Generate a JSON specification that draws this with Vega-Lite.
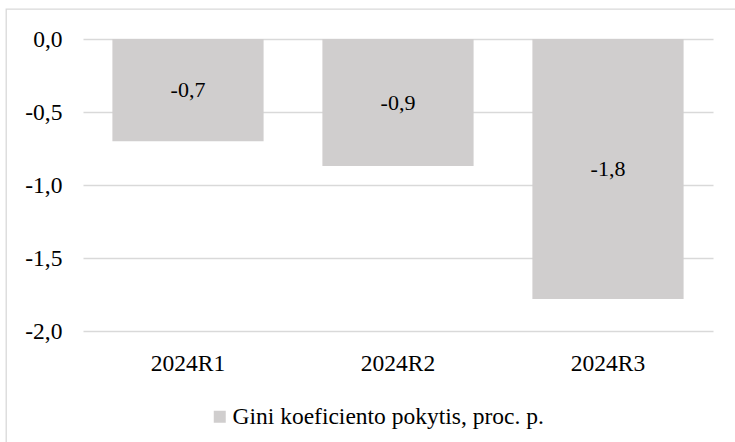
{
  "$schema": "https://vega.github.io/schema/vega-lite/v6.json",
  "width": 740,
  "height": 440,
  "autosize": {"type": "none"},
  "padding": {"left": 6, "top": 9, "right": 0, "bottom": 0},
  "background": "white",
  "config": {
    "font": "Liberation Serif, Times New Roman, serif",
    "locale": {
      "number": {
        "decimal": ",",
        "thousands": " ",
        "grouping": [3],
        "currency": ["", " €"],
        "minus": "-"
      }
    },
    "view": {"stroke": "#D9D9D9", "strokeWidth": 1.3}
  },
  "data": {
    "values": [
      {"laikotarpis": "2024R1", "pokytis": -0.70, "serija": "Gini koeficiento pokytis, proc. p."},
      {"laikotarpis": "2024R2", "pokytis": -0.87, "serija": "Gini koeficiento pokytis, proc. p."},
      {"laikotarpis": "2024R3", "pokytis": -1.78, "serija": "Gini koeficiento pokytis, proc. p."}
    ]
  },
  "layer": [
    {
      "mark": {"type": "bar"},
      "encoding": {
        "x": {
          "field": "laikotarpis",
          "type": "nominal",
          "sort": null,
          "scale": {"range": [77, 707], "paddingInner": 0.28, "paddingOuter": 0.14},
          "axis": {
            "title": null,
            "orient": "bottom",
            "offset": -118,
            "domain": false,
            "ticks": false,
            "tickSize": 0,
            "grid": false,
            "labelAngle": 0,
            "labelPadding": 39,
            "labelBaseline": "alphabetic",
            "labelFontSize": 23.5,
            "labelColor": "#000000",
            "labelFont": "Liberation Serif, Times New Roman, serif"
          }
        },
        "y": {
          "field": "pokytis",
          "type": "quantitative",
          "stack": "zero",
          "scale": {"domain": [-2, 0], "range": [322, 30], "nice": false, "zero": false},
          "axis": {
            "title": null,
            "offset": -77,
            "domain": false,
            "ticks": false,
            "tickSize": 0,
            "values": [0, -0.5, -1, -1.5, -2],
            "format": ".1f",
            "grid": true,
            "gridColor": "#D9D9D9",
            "gridWidth": 1.3,
            "labelPadding": 21,
            "labelFontSize": 23.5,
            "labelColor": "#000000",
            "labelFont": "Liberation Serif, Times New Roman, serif"
          }
        },
        "color": {
          "field": "serija",
          "type": "nominal",
          "scale": {"range": ["#D0CECE"]},
          "legend": {
            "title": null,
            "orient": "none",
            "legendX": 202,
            "legendY": 396,
            "padding": 0,
            "symbolType": "square",
            "symbolSize": 144,
            "symbolStrokeWidth": 0,
            "labelOffset": 1,
            "labelFontSize": 23.5,
            "labelColor": "#000000",
            "labelFont": "Liberation Serif, Times New Roman, serif",
            "labelLimit": 600
          }
        }
      }
    },
    {
      "mark": {"type": "text", "fontSize": 22, "color": "#000000", "baseline": "middle", "font": "Liberation Serif, Times New Roman, serif"},
      "encoding": {
        "x": {"field": "laikotarpis", "type": "nominal", "sort": null},
        "y": {"field": "pokytis", "type": "quantitative", "stack": "zero", "bandPosition": 0.5},
        "text": {"field": "pokytis", "type": "quantitative", "format": ".1f"}
      }
    }
  ]
}
